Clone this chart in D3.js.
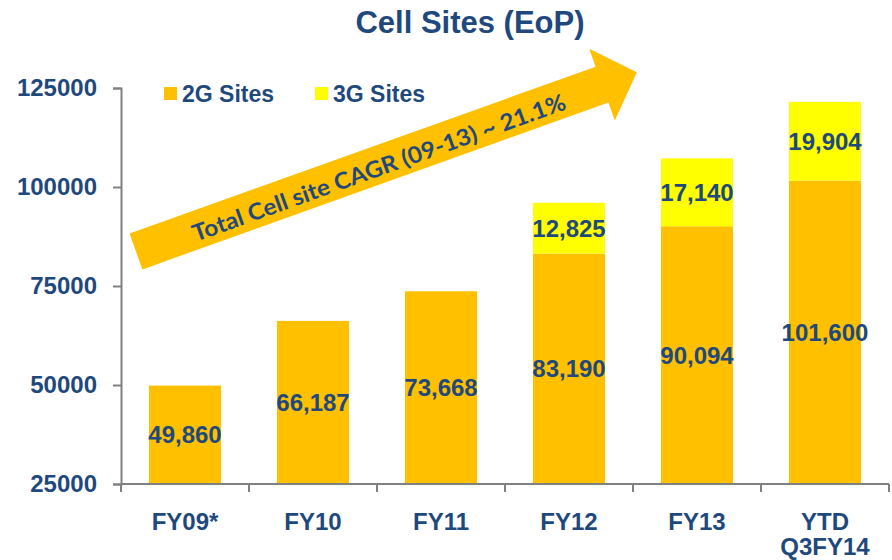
<!DOCTYPE html>
<html><head><meta charset="utf-8">
<script src="https://cdn.jsdelivr.net/npm/d3@7"></script>
<style>body{margin:0;background:#fff}svg{display:block}</style>
</head><body><svg id="c" width="892" height="560"></svg>
<script>
const categories = ["FY09*", "FY10", "FY11", "FY12", "FY13", "YTD\nQ3FY14"];
const sites2G = [49860, 66187, 73668, 83190, 90094, 101600];
const sites3G = [0, 0, 0, 12825, 17140, 19904];
const yTicks = [25000, 50000, 75000, 100000, 125000];
const seriesNames = ["2G Sites", "3G Sites"];
const titleText = "Cell Sites (EoP)";
const arrowText = "Total Cell site CAGR (09-13) ~ 21.1%";

const NAVY = "#1F497D", ORANGE = "#FFC000", YELLOW = "#FFFF00", GREY = "#808080";
const FONT = "'Liberation Sans', Arial, sans-serif";
const svg = d3.select("#c");

const y = d3.scaleLinear().domain([25000, 125000]).range([484, 88]);
const pad = 0.4375;
const x = d3.scaleBand().domain(categories).range([121, 889]).paddingInner(pad).paddingOuter(pad / 2);
const color = d3.scaleOrdinal().domain(seriesNames).range([ORANGE, YELLOW]);

const rows = categories.map((c, i) => ({ c, v2: sites2G[i], v3: sites3G[i] }));
const base = y.domain()[0];

// title
svg.append("text").attr("x", 470).attr("y", 33).attr("text-anchor", "middle")
  .attr("font-family", FONT).attr("font-weight", "bold").attr("font-size", 31)
  .attr("fill", NAVY).text(titleText);

// bars
const g = svg.append("g");
g.selectAll("rect.s2").data(rows).join("rect").attr("class", "s2")
  .attr("x", d => x(d.c)).attr("width", x.bandwidth())
  .attr("y", d => y(d.v2)).attr("height", d => y(base) - y(d.v2))
  .attr("fill", color(seriesNames[0]));
g.selectAll("rect.s3").data(rows.filter(d => d.v3 > 0)).join("rect").attr("class", "s3")
  .attr("x", d => x(d.c)).attr("width", x.bandwidth())
  .attr("y", d => y(d.v2 + d.v3)).attr("height", d => y(d.v2) - y(d.v2 + d.v3))
  .attr("fill", color(seriesNames[1]));

// y axis
const yAxis = svg.append("g").attr("transform", "translate(121,0)")
  .call(d3.axisLeft(y).tickValues(yTicks).tickSize(8).tickPadding(16).tickFormat(d3.format("d")));
yAxis.select(".domain").attr("stroke", GREY).attr("stroke-width", 2);
yAxis.selectAll(".tick line").attr("stroke", GREY).attr("stroke-width", 2);
yAxis.selectAll(".tick text").attr("font-family", FONT).attr("font-weight", "bold")
  .attr("font-size", 24).attr("fill", NAVY);

// x axis
const xg = svg.append("g");
const [r0, r1] = x.range();
xg.append("line").attr("x1", r0).attr("x2", r1).attr("y1", y(base)).attr("y2", y(base))
  .attr("stroke", GREY).attr("stroke-width", 2);
const bounds = d3.range(categories.length + 1).map(i => r0 + i * x.step());
xg.selectAll("line.t").data(bounds).join("line").attr("class", "t")
  .attr("x1", d => d).attr("x2", d => d).attr("y1", y(base)).attr("y2", y(base) + 8)
  .attr("stroke", GREY).attr("stroke-width", 2);
xg.selectAll("text").data(categories).join("text")
  .attr("x", d => x(d) + x.bandwidth() / 2).attr("y", 530)
  .attr("text-anchor", "middle").attr("font-family", FONT).attr("font-weight", "bold")
  .attr("font-size", 24).attr("fill", NAVY)
  .each(function (d) {
    const t = d3.select(this);
    d.split("\n").forEach((s, i) => t.append("tspan").attr("x", x(d) + x.bandwidth() / 2)
      .attr("dy", i === 0 ? 0 : 25).text(s));
  });

// value labels
const fmt = d3.format(",");
g.selectAll("text.l2").data(rows).join("text").attr("class", "l2")
  .attr("x", d => x(d.c) + x.bandwidth() / 2).attr("y", d => y((d.v2 + base) / 2))
  .attr("dy", "0.36em").attr("text-anchor", "middle")
  .attr("font-family", FONT).attr("font-weight", "bold").attr("font-size", 24).attr("fill", NAVY)
  .text(d => fmt(d.v2));
g.selectAll("text.l3").data(rows.filter(d => d.v3 > 0)).join("text").attr("class", "l3")
  .attr("x", d => x(d.c) + x.bandwidth() / 2).attr("y", d => y(d.v2 + d.v3 / 2))
  .attr("dy", "0.36em").attr("text-anchor", "middle")
  .attr("font-family", FONT).attr("font-weight", "bold").attr("font-size", 24).attr("fill", NAVY)
  .text(d => fmt(d.v3));

// legend
const lg = svg.append("g");
const legX = [164, 315];
seriesNames.forEach((s, i) => {
  lg.append("rect").attr("x", legX[i]).attr("y", 87).attr("width", 13).attr("height", 13).attr("fill", color(s));
  lg.append("text").attr("x", legX[i] + 18).attr("y", 102).attr("font-family", FONT)
    .attr("font-weight", "bold").attr("font-size", 23).attr("fill", NAVY).text(s);
});

// CAGR arrow (annotation)
const tail = [136, 251.5], angle = -19.7, len = 532, shaftW = 38, headL = 37, headW = 76;
const ag = svg.append("g").attr("transform", `translate(${tail[0]},${tail[1]}) rotate(${angle})`);
const shape = [[0, -shaftW / 2], [len - headL, -shaftW / 2], [len - headL, -headW / 2], [len, 0],
  [len - headL, headW / 2], [len - headL, shaftW / 2], [0, shaftW / 2]];
ag.append("path").attr("d", d3.line()(shape) + "Z").attr("fill", ORANGE);
ag.append("text").attr("x", 257).attr("y", 3).attr("dy", "0.35em").attr("text-anchor", "middle")
  .attr("font-family", "Lato, 'Open Sans', sans-serif").attr("font-weight", "bold")
  .attr("font-size", 23).attr("fill", NAVY)
  .attr("textLength", 395).attr("lengthAdjust", "spacingAndGlyphs").text(arrowText);
</script></body></html>
